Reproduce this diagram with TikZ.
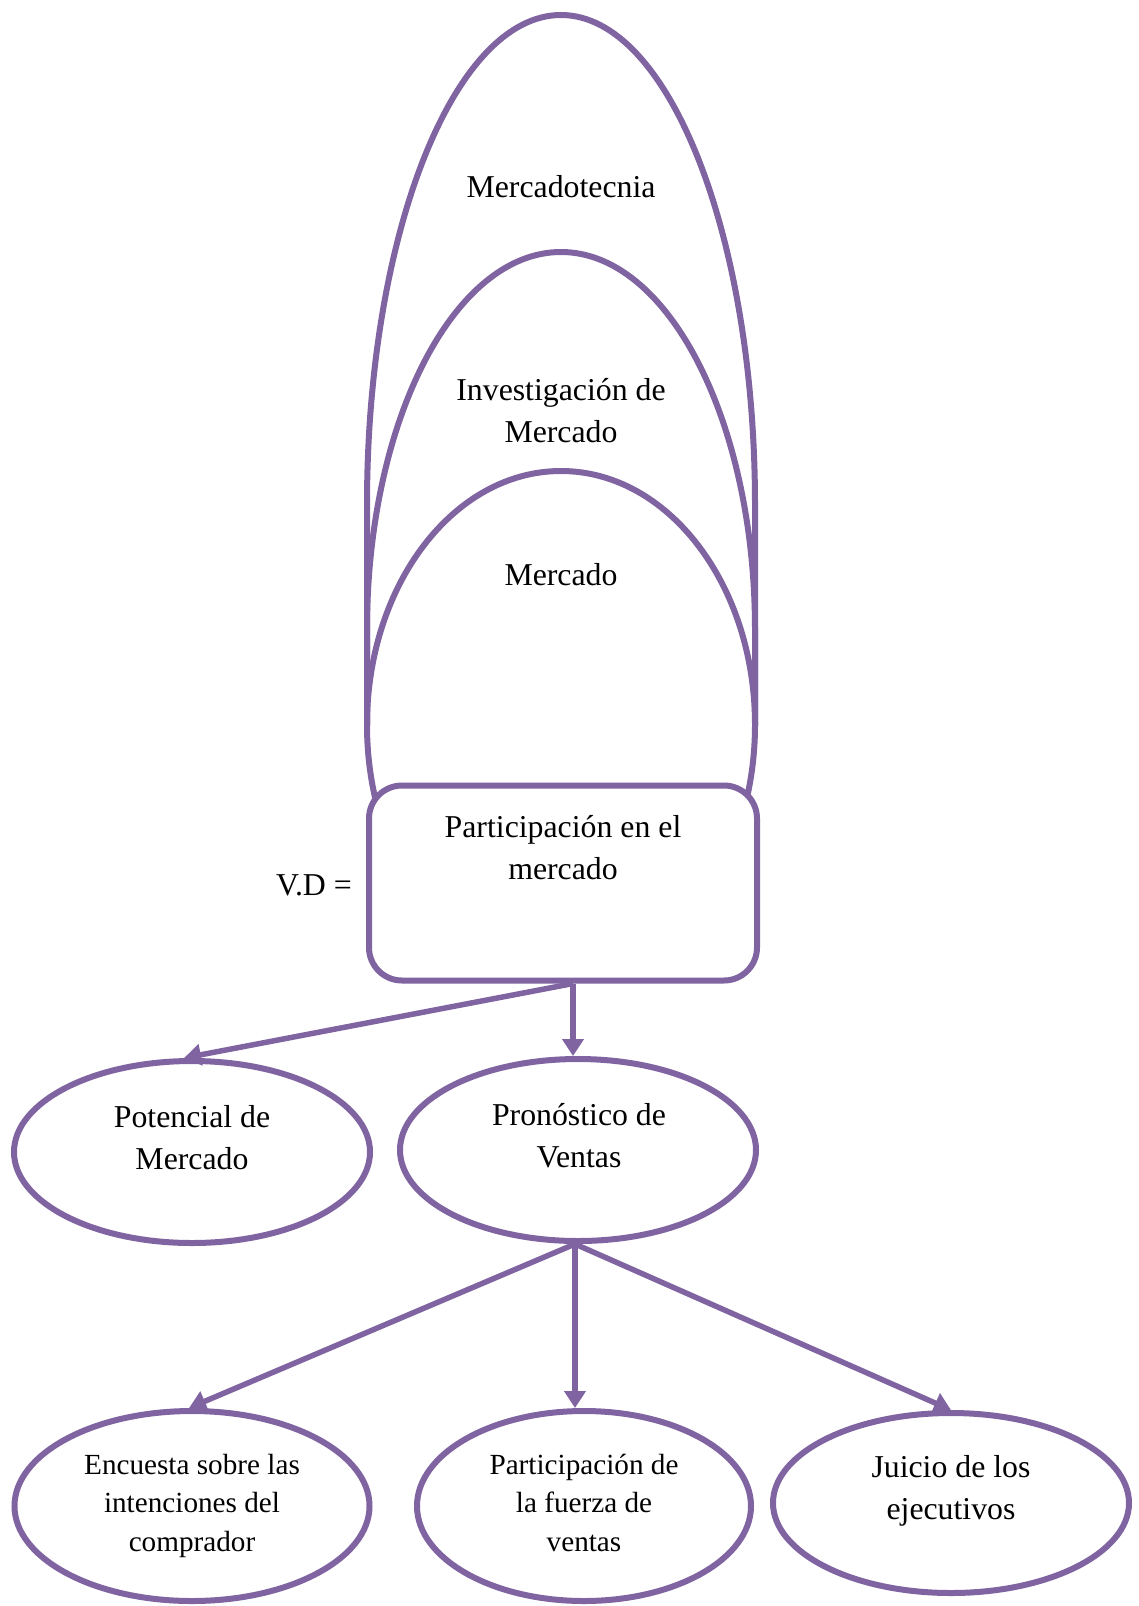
\documentclass[tikz,border=0pt]{standalone}
\usepackage{fontspec}
\setmainfont{Liberation Serif}
\usetikzlibrary{arrows.meta,shapes.geometric}
\definecolor{vio}{HTML}{8064A2}
\newcommand\fsmain{\fontsize{31.8}{42}\selectfont}
\newcommand\fssmall{\fontsize{29.2}{38.5}\selectfont}
% centred lines whose reference point is the first baseline
\newcommand\txtstack[1]{\vtop{\halign{\hfil##\hfil\cr#1\crcr}}}

\begin{document}
\begin{tikzpicture}[x=1pt,y=-1pt,
  outline/.style={draw=vio,line width=6pt},
  oval/.style={outline,shape=ellipse,inner sep=0pt},
  lbl/.style={inner sep=0pt,anchor=base,font=\fsmain},
  slbl/.style={inner sep=0pt,anchor=base,font=\fssmall},
  conn/.style={draw=vio,line width=5.5pt,-{Triangle[length=17pt,width=21pt]}}]
\useasboundingbox (0,0) rectangle (1139,1606);

% nested arches above the central box
\draw[outline] (367,725) -- (367,505)
  arc[start angle=180,end angle=360,x radius=194,y radius=490] -- (755,725);
\draw[outline] (367,725) -- (367,630)
  arc[start angle=180,end angle=360,x radius=194,y radius=378] -- (755,725);
\draw[outline] (561,725) ellipse [x radius=194,y radius=254];

\node[outline,fill=white,rounded corners=33pt,minimum width=388pt,
      minimum height=195pt,inner sep=0pt] (box) at (563,883) {};

\node[lbl] (mkt) at (561,197) {Mercadotecnia};
\node[lbl] (inv) at (561,400) {\txtstack{Investigación de\cr Mercado}};
\node[lbl] (mer) at (561,585) {Mercado};
\node[lbl] (boxtxt) at (563,837) {\txtstack{Participación en el\cr mercado}};
\node[lbl,anchor=base east] (vd) at (352,895) {V.D =};

% second level
\node[oval,minimum width=356pt,minimum height=182pt] (pot) at (192,1152) {};
\node[oval,minimum width=356pt,minimum height=182pt] (pron) at (578,1150) {};
\node[lbl] (pottxt) at (192,1127) {\txtstack{Potencial de\cr Mercado}};
\node[lbl] (prontxt) at (579,1125) {\txtstack{Pronóstico de\cr Ventas}};

% third level
\node[oval,minimum width=355pt,minimum height=190pt] (enc) at (192,1506) {};
\node[oval,minimum width=334pt,minimum height=190pt] (part) at (584,1506) {};
\node[oval,minimum width=356pt,minimum height=180pt] (juic) at (951,1503) {};
\node[slbl] (enctxt) at (192,1474) {\txtstack{Encuesta sobre las\cr intenciones del\cr comprador}};
\node[slbl] (parttxt) at (584,1474) {\txtstack{Participación de\cr la fuerza de\cr ventas}};
\node[lbl] (juictxt) at (951,1477) {\txtstack{Juicio de los\cr ejecutivos}};

% connectors
\draw[conn] ([xshift=10pt]box.south) -- ([xshift=-8pt]pot.north);
\draw[conn] ([xshift=10pt]box.south) -- ([xshift=10pt]box.south |- pron.north);
\draw[conn] ([xshift=-3pt]pron.south) -- ([xshift=-3pt]enc.north);
\draw[conn] ([xshift=-3pt]pron.south) -- ([xshift=-3pt]pron.south |- part.north);
\draw[conn] ([xshift=-3pt]pron.south) -- (juic.north);
\end{tikzpicture}
\end{document}
